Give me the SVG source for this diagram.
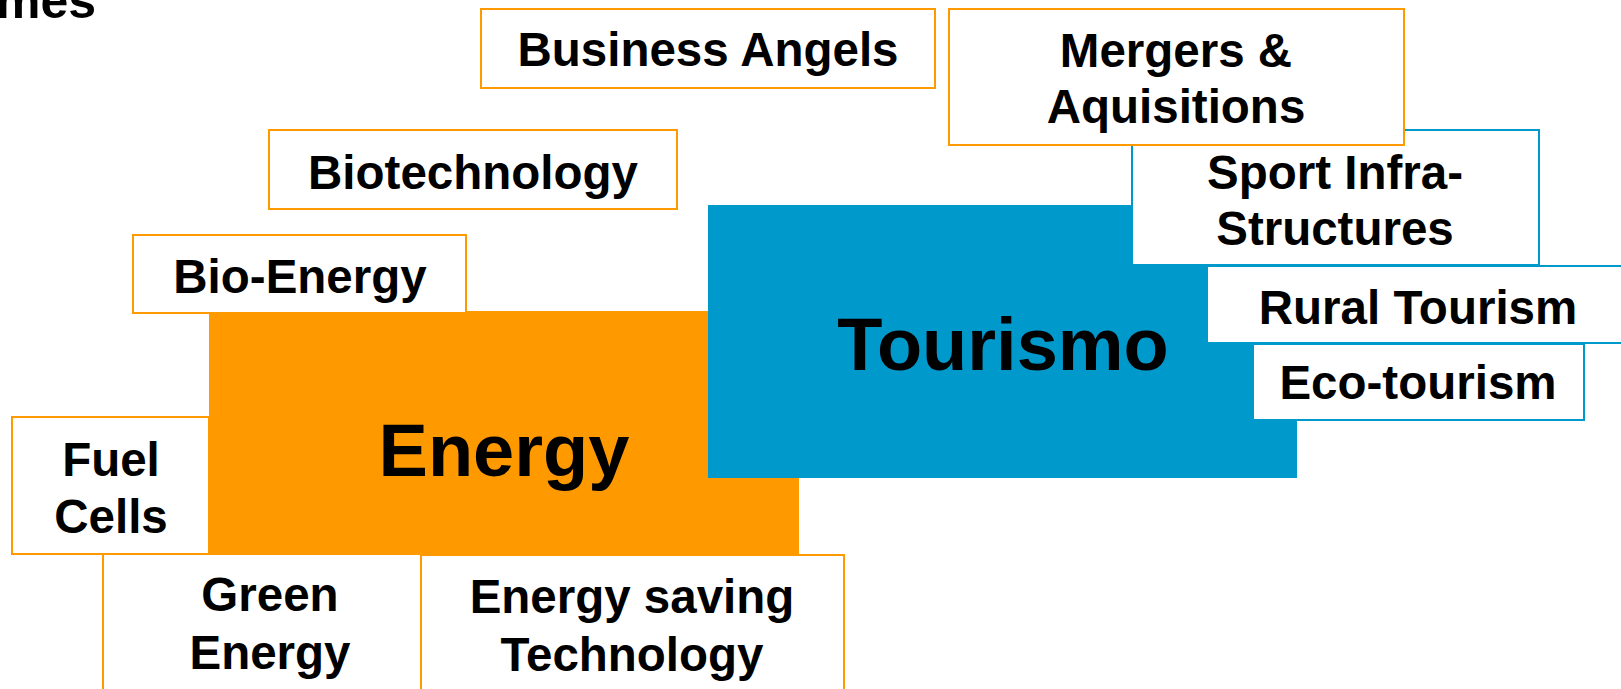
<svg xmlns="http://www.w3.org/2000/svg" width="1621" height="689" viewBox="0 0 1621 689">
<style>
text{font-family:"Liberation Sans",Arial,sans-serif;font-weight:bold;fill:#000;text-anchor:middle}
.t{font-size:47.5px}
.big{font-size:74px}
.ob{fill:#fff;stroke:#FF9900;stroke-width:2}
.bb{fill:#fff;stroke:#0099CC;stroke-width:2}
</style>
<rect width="1621" height="689" fill="#fff"/>
<text x="96" y="18" style="font-size:50px;text-anchor:end">mes</text>
<g id="energy"><rect x="209" y="311" width="590" height="243" fill="#FF9900"/><text class="big" x="504" y="476">Energy</text></g>
<g id="tourismo"><rect x="708" y="205" width="589" height="273" fill="#0099CC"/><text class="big" x="1003" y="370">Tourismo</text></g>
<g id="fuel-cells"><rect class="ob" x="12" y="417" width="197" height="137"/><text class="t" x="111" y="476">Fuel</text><text class="t" x="111" y="533">Cells</text></g>
<g id="bio-energy"><rect class="ob" x="133" y="235" width="333" height="78"/><text class="t" x="300" y="293">Bio-Energy</text></g>
<g id="biotechnology"><rect class="ob" x="269" y="130" width="408" height="79"/><text class="t" x="473" y="189">Biotechnology</text></g>
<g id="business-angels"><rect class="ob" x="481" y="9" width="454" height="79"/><text class="t" x="708" y="66">Business Angels</text></g>
<g id="green-energy"><rect class="ob" x="103" y="554" width="334" height="150"/><text class="t" x="270" y="611">Green</text><text class="t" x="270" y="669">Energy</text></g>
<g id="energy-saving"><rect class="ob" x="421" y="555" width="423" height="150"/><text class="t" x="632" y="613">Energy saving</text><text class="t" x="632" y="671">Technology</text></g>
<g id="sport-infra"><rect class="bb" x="1132" y="130" width="407" height="135"/><text class="t" x="1335" y="189">Sport Infra-</text><text class="t" x="1335" y="245">Structures</text></g>
<g id="mergers"><rect class="ob" x="949" y="9" width="455" height="136"/><text class="t" x="1176" y="67">Mergers &amp;</text><text class="t" x="1176" y="123">Aquisitions</text></g>
<g id="rural-tourism"><rect class="bb" x="1207" y="266" width="422" height="77"/><text class="t" x="1418" y="324">Rural Tourism</text></g>
<g id="eco-tourism"><rect class="bb" x="1253" y="344" width="331" height="76"/><text class="t" x="1418" y="399">Eco-tourism</text></g>
<g id="connectors"/>
</svg>
